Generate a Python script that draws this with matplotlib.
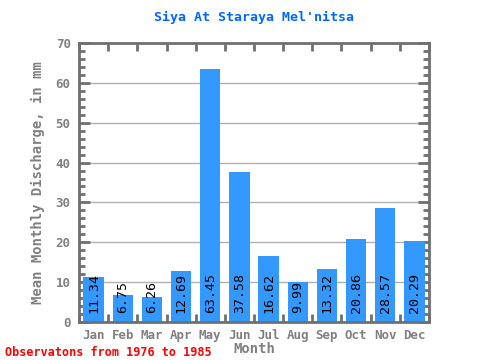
import matplotlib
matplotlib.use("Agg")
import matplotlib.pyplot as plt
from matplotlib.ticker import MultipleLocator, FixedLocator
import numpy as np

months = ["Jan", "Feb", "Mar", "Apr", "May", "Jun", "Jul", "Aug", "Sep", "Oct", "Nov", "Dec"]
values = [11.34, 6.75, 6.26, 12.69, 63.45, 37.58, 16.62, 9.99, 13.32, 20.86, 28.57, 20.29]
labels = ["11.34", "6.75", "6.26", "12.69", "63.45", "37.58", "16.62", "9.99", "13.32", "20.86", "28.57", "20.29"]

mono = ["DejaVu Sans Mono"]
gray = "#808080"

fig = plt.figure(figsize=(4.8, 3.6), dpi=100)
ax = fig.add_axes([79/480, 1-322/360, 350/480, 279/360])

x = np.arange(len(months))
ax.bar(x, values, width=0.7, color="#3399ff", zorder=2)
for xi, lab in zip(x, labels):
    ax.text(xi, 2.2, lab, rotation=90, ha="center", va="bottom", fontsize=9.5,
            family=mono, color="black", zorder=3)

ax.set_xlim(-0.5, 11.5)
ax.set_ylim(0, 70)
ax.yaxis.set_major_locator(MultipleLocator(10))
ax.yaxis.set_minor_locator(MultipleLocator(2))
ax.set_xticks(x)
ax.set_xticklabels(months, family=mono, fontsize=9, fontweight="bold", color=gray)
ax.xaxis.set_minor_locator(FixedLocator(np.arange(-0.5, 12, 1)))
ax.tick_params(axis="x", which="major", length=0, pad=5)
ax.tick_params(axis="x", which="minor", direction="in", length=6, width=2,
               color="#707070", top=True, bottom=True)
ax.tick_params(axis="y", which="major", direction="in", length=8, width=2,
               color="#707070", left=True, right=True, labelcolor=gray, pad=6)
ax.tick_params(axis="y", which="minor", direction="in", length=4, width=2,
               color="#707070", left=True, right=True)
for t in ax.get_yticklabels():
    t.set_family(mono); t.set_fontsize(9); t.set_fontweight("bold")
ax.grid(axis="y", which="major", color="#b0b0b0", linewidth=1, zorder=1)
for s in ax.spines.values():
    s.set_color("#707070"); s.set_linewidth(2)

ax.set_title("Siya At Staraya Mel'nitsa", family=mono, fontsize=9.5, fontweight="bold",
             color="#0066ff", pad=16)
ax.set_xlabel("Month", family=mono, fontsize=10, fontweight="bold", color=gray, labelpad=0)
ax.set_ylabel("Mean Monthly Discharge, in mm", family=mono, fontsize=10, fontweight="bold",
              color=gray, labelpad=8)
fig.text(5/480, 1-352/360, "Observatons from 1976 to 1985", family=mono, fontsize=8.5,
         fontweight="bold", color="red", va="center", ha="left")

fig.savefig("out.png", dpi=100)
